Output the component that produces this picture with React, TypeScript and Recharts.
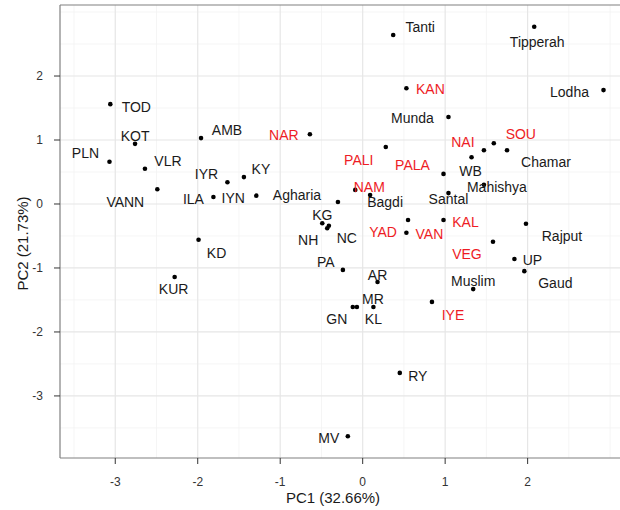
import { ScatterChart, Scatter, XAxis, YAxis, ReferenceLine } from "recharts";

// populations plotted in black
const blackNames = [
  "Tanti", "Tipperah", "Lodha", "Munda", "TOD", "KOT", "PLN", "VLR", "VANN", "AMB",
  "IYR", "KY", "ILA", "IYN", "Agharia", "KG", "NH", "NC", "KD", "KUR",
  "PA", "AR", "GN", "MR", "KL", "Muslim", "Gaud", "UP", "Rajput", "Santal",
  "Bagdi", "WB", "Mahishya", "Chamar", "RY", "MV",
];
const blackPC1 = [
  0.37, 2.08, 2.92, 1.04, -3.06, -2.76, -3.07, -2.64, -2.49, -1.96,
  -1.64, -1.44, -1.81, -1.29, -0.3, -0.49, -0.43, -0.41, -1.99, -2.28,
  -0.24, 0.18, -0.12, -0.07, 0.13, 1.34, 1.96, 1.84, 1.98, 1.04,
  0.09, 1.32, 1.47, 1.75, 0.45, -0.18,
];
const blackPC2 = [
  2.64, 2.77, 1.78, 1.36, 1.56, 0.94, 0.66, 0.55, 0.23, 1.03,
  0.34, 0.42, 0.11, 0.13, 0.03, -0.3, -0.38, -0.34, -0.56, -1.14,
  -1.03, -1.22, -1.61, -1.61, -1.61, -1.33, -1.05, -0.86, -0.31, 0.17,
  0.14, 0.73, 0.3, 0.84, -2.64, -3.63,
];

// populations plotted in red
const redNames = ["KAN", "NAR", "PALI", "PALA", "NAM", "NAI", "SOU", "YAD", "VAN", "KAL", "VEG", "IYE"];
const redPC1 = [0.53, -0.64, 0.28, 0.98, -0.09, 1.47, 1.59, 0.55, 0.53, 0.98, 1.58, 0.84];
const redPC2 = [1.81, 1.09, 0.89, 0.47, 0.22, 0.84, 0.95, -0.25, -0.45, -0.25, -0.59, -1.53];

const xTicks = [-3, -2, -1, 0, 1, 2];
const yTicks = [-3, -2, -1, 0, 1, 2];
const xMinor = [-3.5, -2.5, -1.5, -0.5, 0.5, 1.5, 2.5, 3];
const yMinor = [-3.5, -2.5, -1.5, -0.5, 0.5, 1.5, 2.5, 3];

const X_DOMAIN: [number, number] = [-3.67, 3.12];
const Y_DOMAIN: [number, number] = [-3.97, 3.11];

// label placement (pixels from the point), like ggrepel left them
const labelOffset: Record<string, [number, number]> = {
  Tanti: [27, -8], Tipperah: [3, 15], KAN: [24, 1], Lodha: [-34, 2], Munda: [-36, 1],
  TOD: [26, 3], KOT: [0, -8], PLN: [-24, -9], VLR: [23, -8], VANN: [-32, 13],
  AMB: [26, -8], NAR: [-26, 1], IYR: [-21, -8], KY: [17, -8], ILA: [-20, 2],
  IYN: [-23, 2], Agharia: [-41, -7], KG: [0, -8], NH: [-19, 12], NC: [18, 12],
  KD: [18, 13], KUR: [-1, 12], PA: [-17, -8], AR: [0, -7], MR: [16, -8],
  GN: [-16, 12], KL: [0, 12], IYE: [21, 13], Muslim: [0, -8], Gaud: [31, 12],
  UP: [18, 1], Rajput: [36, 12], VEG: [-26, 12], KAL: [22, 2], YAD: [-25, 12],
  VAN: [23, 1], Santal: [0, 6], Bagdi: [15, 7], NAM: [14, -3], PALA: [-31, -9],
  PALI: [-27, 13], WB: [-1, 14], Mahishya: [13, 2], NAI: [-21, -8], SOU: [27, -9],
  Chamar: [39, 12], RY: [18, 3], MV: [-19, 2],
};

const FONT = "'Liberation Sans', Arial, sans-serif";

const toRows = (names: string[], pc1: number[], pc2: number[]) =>
  names.map((name, i) => ({ name, pc1: pc1[i], pc2: pc2[i] }));

const blackData = toRows(blackNames, blackPC1, blackPC2);
const redData = toRows(redNames, redPC1, redPC2);

const makeShape = (color: string) => (props: any) => {
  const { cx, cy, payload } = props;
  const [dx, dy] = labelOffset[payload.name] ?? [0, -9];
  return (
    <g>
      <circle cx={cx} cy={cy} r={2.3} fill="#000" />
      <text
        x={cx + dx}
        y={cy + dy}
        textAnchor="middle"
        dominantBaseline="central"
        fill={color}
        fontSize={14}
        fontFamily={FONT}
      >
        {payload.name}
      </text>
    </g>
  );
};

const XTitle = (props: any) => {
  const vb = props.viewBox;
  return (
    <text x={vb.x + vb.width / 2 - 7} y={vb.y + 45} textAnchor="middle" fontSize={15} fontFamily={FONT} fill="#1a1a1a">
      PC1 (32.66%)
    </text>
  );
};

const YTitle = (props: any) => {
  const vb = props.viewBox;
  const x = vb.x + 22;
  const y = vb.y + vb.height / 2 + 12;
  return (
    <text
      x={x}
      y={y}
      transform={`rotate(-90, ${x}, ${y})`}
      textAnchor="middle"
      dominantBaseline="central"
      fontSize={15}
      fontFamily={FONT}
      fill="#1a1a1a"
    >
      PC2 (21.73%)
    </text>
  );
};

export default function App() {
  const tickStyle = { fill: "#333", fontSize: 12, fontFamily: FONT };
  return (
    <>
      <style>{"body{margin:0}"}</style>
      <ScatterChart width={620} height={510} margin={{ top: 5, right: 0, left: 0, bottom: 0 }}>
        {xMinor.map((v) => (
          <ReferenceLine key={"xm" + v} x={v} stroke="#f3f3f3" strokeWidth={0.8} />
        ))}
        {yMinor.map((v) => (
          <ReferenceLine key={"ym" + v} y={v} stroke="#f3f3f3" strokeWidth={0.8} />
        ))}
        {xTicks.map((v) => (
          <ReferenceLine key={"xM" + v} x={v} stroke="#e6e6e6" strokeWidth={1.2} />
        ))}
        {yTicks.map((v) => (
          <ReferenceLine key={"yM" + v} y={v} stroke="#e6e6e6" strokeWidth={1.2} />
        ))}
        <ReferenceLine y={Y_DOMAIN[1]} stroke="#808080" strokeWidth={1.2} />
        <XAxis
          type="number"
          dataKey="pc1"
          domain={X_DOMAIN}
          ticks={xTicks}
          allowDataOverflow
          height={52}
          tickSize={6}
          tickMargin={13}
          tick={tickStyle}
          tickLine={{ stroke: "#333" }}
          axisLine={{ stroke: "#808080", strokeWidth: 1.2 }}
          label={{ value: "PC1 (32.66%)", content: XTitle }}
        />
        <YAxis
          type="number"
          dataKey="pc2"
          domain={Y_DOMAIN}
          ticks={yTicks}
          allowDataOverflow
          width={60}
          tickSize={6}
          tickMargin={11}
          tick={tickStyle}
          tickLine={{ stroke: "#333" }}
          axisLine={{ stroke: "#808080", strokeWidth: 1.2 }}
          label={{ value: "PC2 (21.73%)", content: YTitle }}
        />
        <Scatter data={blackData} shape={makeShape("#1a1a1a")} isAnimationActive={false} />
        <Scatter data={redData} shape={makeShape("#ee1c25")} isAnimationActive={false} />
      </ScatterChart>
    </>
  );
}
